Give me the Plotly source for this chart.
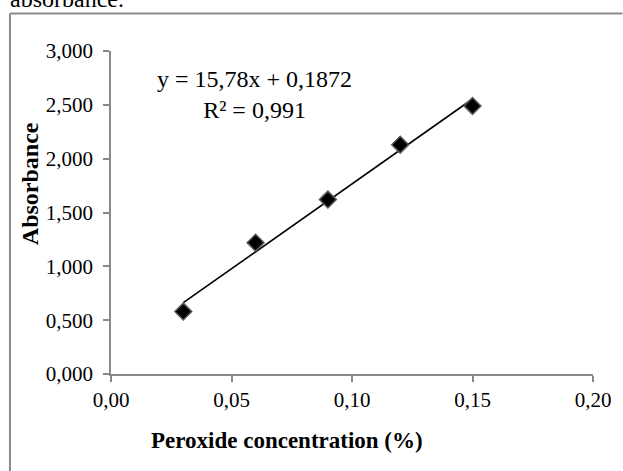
import numpy as np
import plotly.graph_objects as go

# ---- data ----
conc = [0.03, 0.06, 0.09, 0.12, 0.15]
absorb = [0.58, 1.22, 1.62, 2.13, 2.49]
x_tickvals = [0.0, 0.05, 0.10, 0.15, 0.20]
x_ticktext = ["0,00", "0,05", "0,10", "0,15", "0,20"]
y_tickvals = [0.0, 0.5, 1.0, 1.5, 2.0, 2.5, 3.0]
y_ticktext = ["0,000", "0,500", "1,000", "1,500", "2,000", "2,500", "3,000"]
eq_text = "y = 15,78x + 0,1872<br>R² = 0,991"

# linear trendline (least squares fit of the data)
slope, intercept = np.polyfit(conc, absorb, 1)
fit_x = [min(conc), max(conc)]
fit_y = [slope * v + intercept for v in fit_x]

W, H = 623, 471
ML, MT = 111, 51
MR = W - 600
MB = H - 374
PW, PH = W - ML - MR, H - MT - MB

def px(xw):  # window x pixel -> paper coordinate
    return (xw - ML) / PW

def py(yw):  # window y pixel -> paper coordinate
    return 1 + (MT - yw) / PH

FONT = "Liberation Serif, Times New Roman, serif"
AX = "#898989"

fig = go.Figure()
fig.add_trace(go.Scatter(x=fit_x, y=fit_y, mode="lines",
                         line=dict(color="black", width=1.6),
                         showlegend=False, hoverinfo="skip"))
fig.add_trace(go.Scatter(x=conc, y=absorb, mode="markers",
                         marker=dict(symbol="diamond", size=13, color="black",
                                     line=dict(color="#5a5a5a", width=1.5)),
                         showlegend=False))

fig.update_layout(
    width=W, height=H,
    margin=dict(l=ML, r=MR, t=MT, b=MB),
    paper_bgcolor="white", plot_bgcolor="white",
    font=dict(family=FONT, color="black", size=21),
    xaxis=dict(range=[0, 0.2], tickvals=x_tickvals, ticktext=x_ticktext,
               showgrid=False, zeroline=False, showline=True, linecolor=AX,
               linewidth=1.5, ticks="outside", ticklen=6, tickcolor=AX,
               tickwidth=1.5, tickfont=dict(size=21, family=FONT)),
    yaxis=dict(range=[0, 3], tickvals=y_tickvals, ticktext=y_ticktext,
               showgrid=False, zeroline=False, showline=True, linecolor=AX,
               linewidth=1.5, ticks="outside", ticklen=6, tickcolor=AX,
               tickwidth=1.5, tickfont=dict(size=21, family=FONT),
               ticklabelstandoff=6),
    shapes=[
        dict(type="line", xref="paper", yref="paper",
             x0=px(8.5), x1=px(8.5), y0=py(13.5), y1=py(480),
             line=dict(color="#8c8c8c", width=2)),
        dict(type="line", xref="paper", yref="paper",
             x0=px(8.5), x1=px(630), y0=py(13.5), y1=py(13.5),
             line=dict(color="#8c8c8c", width=2)),
    ],
    annotations=[
        dict(text=eq_text, xref="paper", yref="paper", x=px(257), y=py(94),
             xanchor="center", yanchor="middle", showarrow=False,
             font=dict(size=24, family=FONT), align="center"),
        dict(text="<b>Peroxide concentration (%)</b>", xref="paper", yref="paper",
             x=px(289.5), y=py(440), xanchor="center", yanchor="middle",
             showarrow=False, font=dict(size=23, family=FONT)),
        dict(text="<b>Absorbance</b>", xref="paper", yref="paper",
             x=px(29), y=py(184), xanchor="center", yanchor="middle",
             textangle=-90, showarrow=False, font=dict(size=24, family=FONT)),
        dict(text="absorbance.", xref="paper", yref="paper",
             x=px(7), y=py(-1), xanchor="left", yanchor="middle",
             showarrow=False, font=dict(size=24, family=FONT)),
    ],
)

fig.write_html(
    "out.html",
    config={"displayModeBar": False},
    post_script=(
        "document.body.style.margin='0';"
        "document.body.style.overflow='hidden';"
        "document.documentElement.style.overflow='hidden';"
    ),
)
